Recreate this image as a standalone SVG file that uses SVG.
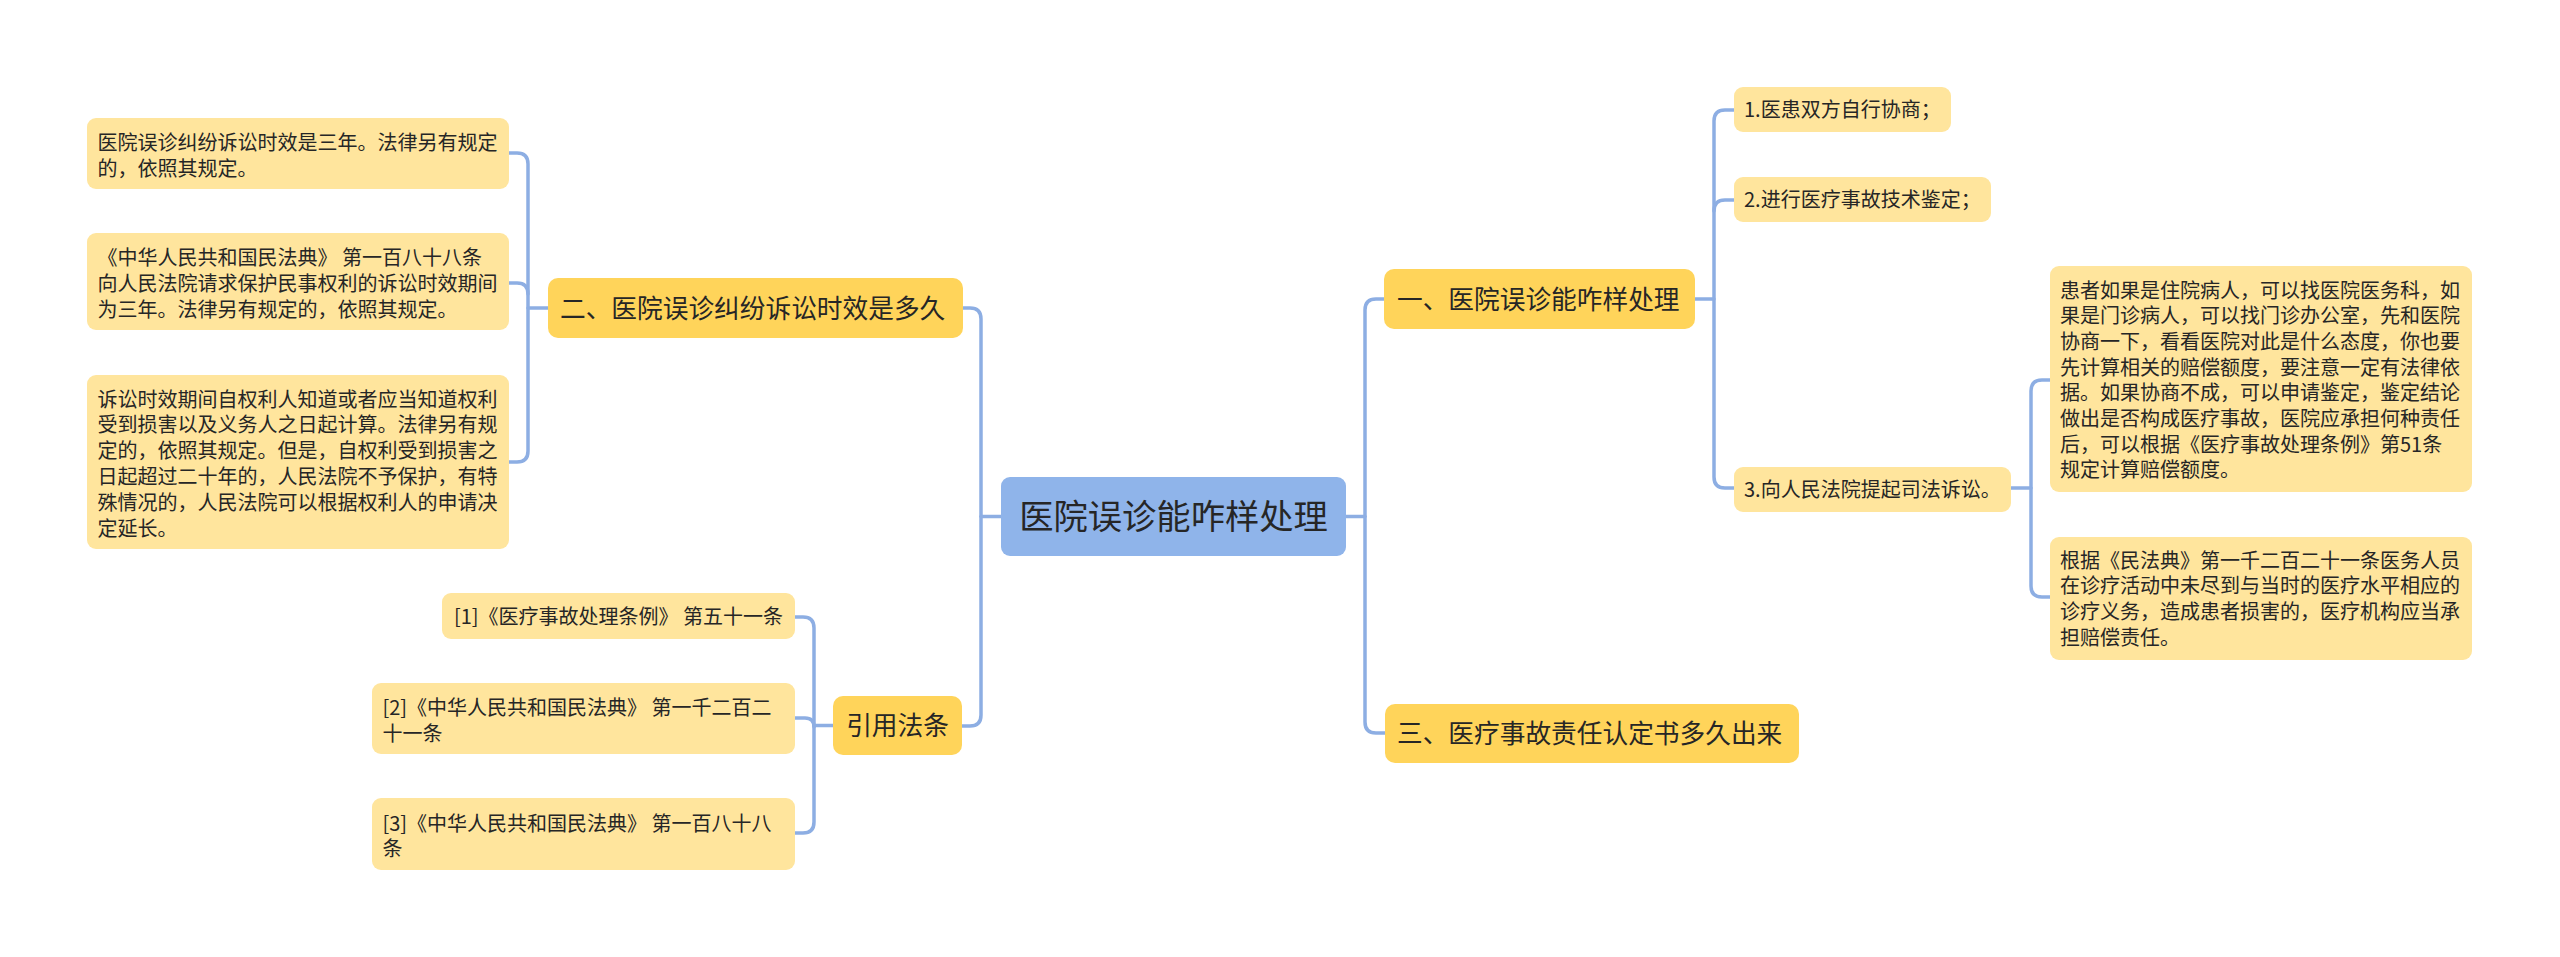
<svg xmlns="http://www.w3.org/2000/svg" width="2560" height="957" viewBox="0 0 2560 957">
<style>
text{font-family:"Noto Sans CJK SC","Noto Sans",sans-serif;fill:#262626}
.leaf rect{fill:#FFE59D}
.leaf text{font-size:20px}
.branch rect{fill:#FFD45A}
.branch text{font-size:25.7px}
.root rect{fill:#8FB4EA}
.root text{font-size:34.3px}
#connectors path{fill:none;stroke:#8DAEE3;stroke-width:3.5;stroke-linecap:round}
</style>
<rect width="2560" height="957" fill="#FFFFFF"/>
<g id="connectors">
<path d="M1346,516.5 H1365"/>
<path d="M1384,299 H1376 Q1365,299 1365,310 V722 Q1365,733 1376,733 H1385"/>
<path d="M1001,516.5 H981"/>
<path d="M963,308 H970 Q981,308 981,319 V715 Q981,726 970,726 H962"/>
<path d="M1695,299 H1714"/>
<path d="M1734,110 H1725 Q1714,110 1714,121 V477 Q1714,488 1725,488 H1734"/>
<path d="M1734,200 H1725 Q1714,200 1714,211"/>
<path d="M2011,488 H2031"/>
<path d="M2050,380 H2042 Q2031,380 2031,391 V586 Q2031,597 2042,597 H2050"/>
<path d="M548,308 H528"/>
<path d="M509,153 H517 Q528,153 528,164 V451 Q528,462 517,462 H509"/>
<path d="M509,283 H517 Q528,283 528,294"/>
<path d="M833,725.5 H814"/>
<path d="M795,617 H803 Q814,617 814,628 V822 Q814,833 803,833 H795"/>
<path d="M795,718 H805 Q814,718 814,727"/>
</g>
<g id="root" class="root">
<rect x="1001" y="477" width="345" height="79" rx="9"/>
<text x="1173.5" y="529" text-anchor="middle">医院误诊能咋样处理</text>
</g>
<g id="b1" class="branch">
<rect x="1384" y="269" width="311" height="60" rx="10"/>
<text x="1397" y="308.5">一、医院误诊能咋样处理</text>
</g>
<g id="b3" class="branch">
<rect x="1385" y="704" width="414" height="59" rx="10"/>
<text x="1397" y="743">三、医疗事故责任认定书多久出来</text>
</g>
<g id="b2" class="branch">
<rect x="548" y="278" width="415" height="60" rx="10"/>
<text x="560" y="317.5">二、医院误诊纠纷诉讼时效是多久</text>
</g>
<g id="b4" class="branch">
<rect x="833" y="696" width="129" height="59" rx="10"/>
<text x="897.5" y="735" text-anchor="middle">引用法条</text>
</g>
<g id="r1" class="leaf">
<rect x="1734" y="87" width="217" height="45" rx="9"/>
<text x="1744" y="117">1.医患双方自行协商；</text>
</g>
<g id="r2" class="leaf">
<rect x="1734" y="177" width="257" height="45" rx="9"/>
<text x="1744" y="207">2.进行医疗事故技术鉴定；</text>
</g>
<g id="r3" class="leaf">
<rect x="1734" y="467" width="277" height="45" rx="9"/>
<text x="1744" y="497">3.向人民法院提起司法诉讼。</text>
</g>
<g id="r3a" class="leaf">
<rect x="2050" y="266" width="422" height="226" rx="9"/>
<text x="2060" y="297.5">患者如果是住院病人，可以找医院医务科，如</text>
<text x="2060" y="323.2">果是门诊病人，可以找门诊办公室，先和医院</text>
<text x="2060" y="348.9">协商一下，看看医院对此是什么态度，你也要</text>
<text x="2060" y="374.6">先计算相关的赔偿额度，要注意一定有法律依</text>
<text x="2060" y="400.3">据。如果协商不成，可以申请鉴定，鉴定结论</text>
<text x="2060" y="426">做出是否构成医疗事故，医院应承担何种责任</text>
<text x="2060" y="451.7">后，可以根据《医疗事故处理条例》第51条</text>
<text x="2060" y="477.4">规定计算赔偿额度。</text>
</g>
<g id="r3b" class="leaf">
<rect x="2050" y="537" width="422" height="123" rx="9"/>
<text x="2060" y="567.5">根据《民法典》第一千二百二十一条医务人员</text>
<text x="2060" y="593.2">在诊疗活动中未尽到与当时的医疗水平相应的</text>
<text x="2060" y="618.9">诊疗义务，造成患者损害的，医疗机构应当承</text>
<text x="2060" y="644.6">担赔偿责任。</text>
</g>
<g id="l1" class="leaf">
<rect x="87" y="118" width="422" height="71" rx="9"/>
<text x="97.5" y="150">医院误诊纠纷诉讼时效是三年。法律另有规定</text>
<text x="97.5" y="175.5">的，依照其规定。</text>
</g>
<g id="l2" class="leaf">
<rect x="87" y="233" width="422" height="97" rx="9"/>
<text x="97.5" y="265">《中华人民共和国民法典》 第一百八十八条</text>
<text x="97.5" y="290.8">向人民法院请求保护民事权利的诉讼时效期间</text>
<text x="97.5" y="316.6">为三年。法律另有规定的，依照其规定。</text>
</g>
<g id="l3" class="leaf">
<rect x="87" y="375" width="422" height="174" rx="9"/>
<text x="97.5" y="406.6">诉讼时效期间自权利人知道或者应当知道权利</text>
<text x="97.5" y="432.4">受到损害以及义务人之日起计算。法律另有规</text>
<text x="97.5" y="458.2">定的，依照其规定。但是，自权利受到损害之</text>
<text x="97.5" y="484">日起超过二十年的，人民法院不予保护，有特</text>
<text x="97.5" y="509.8">殊情况的，人民法院可以根据权利人的申请决</text>
<text x="97.5" y="535.6">定延长。</text>
</g>
<g id="ref1" class="leaf">
<rect x="442" y="593" width="353" height="46" rx="9"/>
<text x="454" y="623.5">[1]《医疗事故处理条例》 第五十一条</text>
</g>
<g id="ref2" class="leaf">
<rect x="372" y="683" width="423" height="71" rx="9"/>
<text x="382.5" y="714.5">[2]《中华人民共和国民法典》 第一千二百二</text>
<text x="382.5" y="740.5">十一条</text>
</g>
<g id="ref3" class="leaf">
<rect x="372" y="798" width="423" height="72" rx="9"/>
<text x="382.5" y="830.5">[3]《中华人民共和国民法典》 第一百八十八</text>
<text x="382.5" y="855.5">条</text>
</g>
</svg>
